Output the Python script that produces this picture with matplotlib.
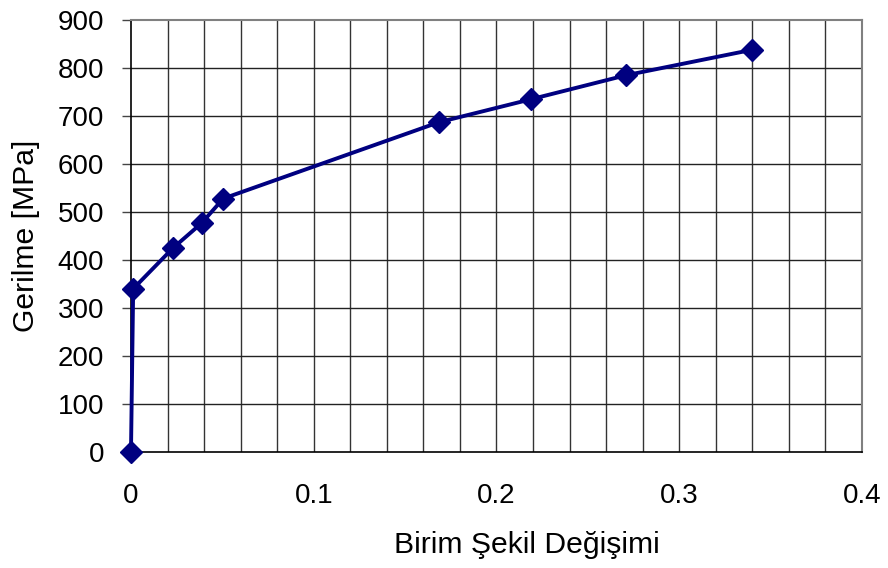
import numpy as np
import matplotlib.pyplot as plt

plt.rcParams['font.family'] = ['Liberation Sans', 'DejaVu Sans']

# okunan deger noktalari
strain = [0.0, 0.0012, 0.023, 0.0387, 0.0505, 0.1685, 0.219, 0.271, 0.34]
stress = [0, 340, 425, 477, 528, 687, 735, 785, 838]

x_ticks = [0, 0.1, 0.2, 0.3, 0.4]
x_tick_labels = ['0', '0.1', '0.2', '0.3', '0.4']
y_ticks = [0, 100, 200, 300, 400, 500, 600, 700, 800, 900]

fig = plt.figure(figsize=(8.88, 5.68), dpi=100)
ax = fig.add_axes([0.1475, 0.2042, 0.8232, 0.7606])

# grid: dikey her 0.02, yatay her 100
for gx in np.arange(0.02, 0.4, 0.02):
    ax.axvline(gx, color='#333333', lw=1, zorder=1)
for gy in y_ticks[1:-1]:
    ax.axhline(gy, color='#222222', lw=1, zorder=1)

ax.plot(strain, stress, color='#000080', lw=2.8, marker='D', markersize=11,
        zorder=3, clip_on=False)

ax.set_xlim(0, 0.4)
ax.set_ylim(0, 900)
ax.set_xticks(x_ticks)
ax.set_xticklabels(x_tick_labels)
ax.set_yticks(y_ticks)

ax.tick_params(axis='x', length=0, pad=22, labelsize=20)
ax.tick_params(axis='y', length=6.5, width=1, pad=13, labelsize=20, color='#444444')

for s in ['top', 'right']:
    ax.spines[s].set_color('#808080')
    ax.spines[s].set_linewidth(1.5)
for s in ['left', 'bottom']:
    ax.spines[s].set_color('black')
    ax.spines[s].set_linewidth(1.2)

ax.set_xlabel('Birim Şekil Değişimi', fontsize=21.7)
ax.xaxis.set_label_coords(0.542, -0.182)
ax.set_ylabel('Gerilme [MPa]', fontsize=21.7)
ax.yaxis.set_label_coords(-0.125, 0.5)

plt.savefig('out.png', dpi=100)
